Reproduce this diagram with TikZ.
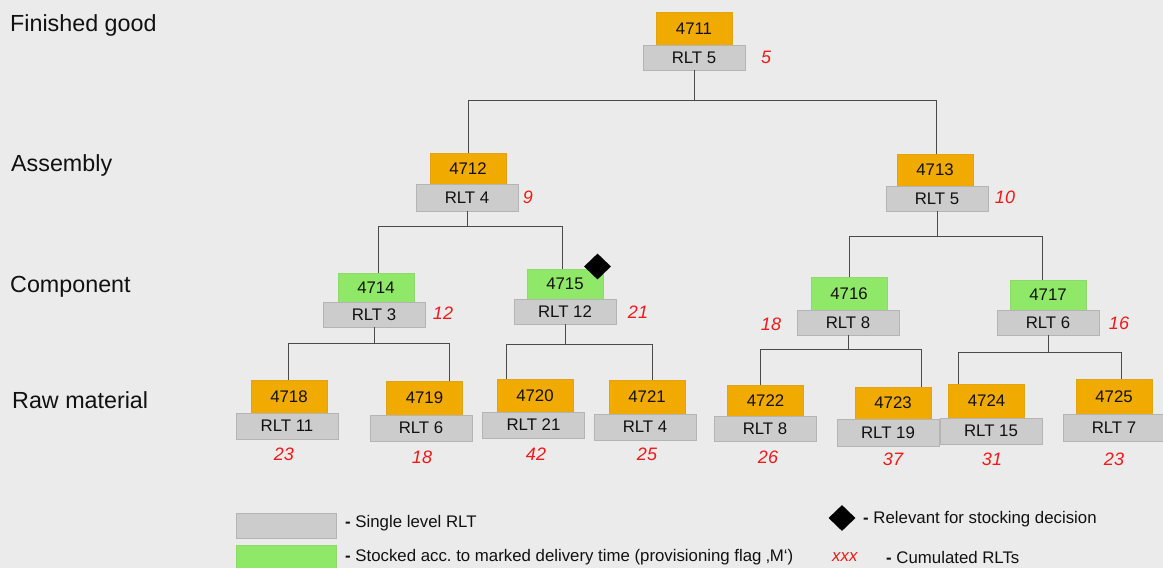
\documentclass[tikz,border=0pt]{standalone}
\usepackage{fontspec}
\setmainfont{Liberation Sans}
\usetikzlibrary{shapes.geometric}
\definecolor{bgc}{HTML}{EBEBEB}
\definecolor{orangec}{HTML}{F0AA00}
\definecolor{greenc}{HTML}{90E868}
\definecolor{grayc}{HTML}{CCCCCC}
\definecolor{grayb}{HTML}{B4B4B4}
\definecolor{linec}{HTML}{4A4A4A}
\definecolor{txtc}{HTML}{111111}
\definecolor{redc}{HTML}{F01818}
\tikzset{
  obox/.style={line width=0.6pt, minimum width=76pt, inner sep=0pt, text=txtc, font=\fontsize{16.8}{18}\selectfont},
  rbox/.style={draw=grayb, fill=grayc, line width=0.6pt, minimum width=102pt, inner sep=0pt, text=txtc, font=\fontsize{16.8}{18}\selectfont},
  cum/.style={text=redc, inner sep=0pt, font=\fontsize{18}{20}\selectfont\itshape},
  conn/.style={draw=linec, line width=1pt},
  level/.style={anchor=base west, inner sep=0pt, text=txtc, font=\fontsize{23.3}{26}\selectfont},
  legtext/.style={anchor=west, inner sep=0pt, text=txtc, font=\fontsize{16.8}{19}\selectfont},
  decision/.style={diamond, fill=black, draw=none, minimum width=27pt, minimum height=26pt, inner sep=0pt}
}
% #1 name, #2 gray centre x, #3 top, #4 middle, #5 bottom, #6 RLT, #7 fill, #8 orange x offset
\newcommand\bomitem[8]{%
  \node[obox, fill=#7, draw=#7!85!gray, minimum height={(#4-#3)*1pt}] (o#1) at ({#2+#8},{(#3+#4)/2}) {#1};
  \node[rbox, minimum height={(#5-#4)*1pt}] (r#1) at (#2,{(#4+#5)/2}) {RLT #6};
}
% #1 parent, #2 bus y, #3 child, #4 child line x
\newcommand\bomconn[4]{%
  \draw[conn] (r#1.south) -- (r#1.south |- 0,#2) -| (o#3.north -| #4,0);
}
\begin{document}
\begin{tikzpicture}[x=1pt,y=-1pt]
\fill[bgc] (0,0) rectangle (1163,568);
\useasboundingbox (0,0) rectangle (1163,568);

% level labels
\node[level] (lv1) at (10,31) {Finished good};
\node[level] (lv2) at (11,171) {Assembly};
\node[level] (lv3) at (10,292) {Component};
\node[level] (lv4) at (12,408) {Raw material};

% items
\bomitem{4711}{694}{12}{45}{70}{5}{orangec}{0}
\bomitem{4712}{467}{153}{184}{211}{4}{orangec}{1}
\bomitem{4713}{937}{154}{186}{211}{5}{orangec}{-2}
\bomitem{4714}{374}{273}{302}{327}{3}{greenc}{2}
\bomitem{4715}{565}{269}{299}{324}{12}{greenc}{0}
\bomitem{4716}{848}{277}{310}{335}{8}{greenc}{1}
\bomitem{4717}{1048}{280}{310}{335}{6}{greenc}{0}
\bomitem{4718}{287}{380}{413}{439}{11}{orangec}{2}
\bomitem{4719}{421}{381}{415}{441}{6}{orangec}{3.5}
\bomitem{4720}{533.5}{379}{412}{438}{21}{orangec}{1.5}
\bomitem{4721}{645}{380}{414}{440}{4}{orangec}{2}
\bomitem{4722}{765}{385}{416}{441}{8}{orangec}{0.5}
\bomitem{4723}{888}{387}{419}{446}{19}{orangec}{5}
\bomitem{4724}{991}{384}{418}{444}{15}{orangec}{-4.5}
\bomitem{4725}{1114}{379}{414}{441}{7}{orangec}{0}

% connectors
\bomconn{4711}{100}{4712}{468}
\bomconn{4711}{100}{4713}{936}
\bomconn{4712}{226}{4714}{378}
\bomconn{4712}{226}{4715}{562}
\bomconn{4713}{236}{4716}{849}
\bomconn{4713}{236}{4717}{1042}
\bomconn{4714}{343}{4718}{288}
\bomconn{4714}{343}{4719}{449}
\bomconn{4715}{344}{4720}{506}
\bomconn{4715}{344}{4721}{652}
\bomconn{4716}{349}{4722}{760}
\bomconn{4716}{349}{4723}{921}
\bomconn{4717}{352}{4724}{958}
\bomconn{4717}{352}{4725}{1121}

% relevant for stocking decision
\node[decision] (dec4715) at (597.5,266.5) {};

% cumulated RLTs
\node[cum] (c4711) at (766,57) {5};
\node[cum] (c4712) at (528,197) {9};
\node[cum] (c4713) at (1005,197) {10};
\node[cum] (c4714) at (443,313) {12};
\node[cum] (c4715) at (638,312) {21};
\node[cum] (c4716) at (771,324) {18};
\node[cum] (c4717) at (1119,323) {16};
\node[cum] (c4718) at (284,454) {23};
\node[cum] (c4719) at (422,457) {18};
\node[cum] (c4720) at (536,454) {42};
\node[cum] (c4721) at (647,454) {25};
\node[cum] (c4722) at (768,457) {26};
\node[cum] (c4723) at (893,459) {37};
\node[cum] (c4724) at (992,459) {31};
\node[cum] (c4725) at (1114,459) {23};

% legend
\node[rbox, minimum width=100pt, minimum height=25pt] (lg1) at (286,525.5) {};
\node[obox, draw=greenc!85!gray, fill=greenc, minimum width=100pt, minimum height=25pt] (lg2) at (286,557.5) {};
\node[legtext] (lt1) at (345,523) {\textbf{-} Single level RLT};
\node[legtext] (lt2) at (345,557) {\textbf{-} Stocked acc.\ to marked delivery time (provisioning flag ‚M‘)};
\node[decision] (lg3) at (842,518) {};
\node[legtext] (lt3) at (863,519) {\textbf{-} Relevant for stocking decision};
\node[legtext, text=redc, font=\fontsize{16.8}{19}\selectfont\itshape] (lg4) at (832,557) {xxx};
\node[legtext] (lt4) at (886,557) {\textbf{-} Cumulated RLTs};
\end{tikzpicture}
\end{document}
